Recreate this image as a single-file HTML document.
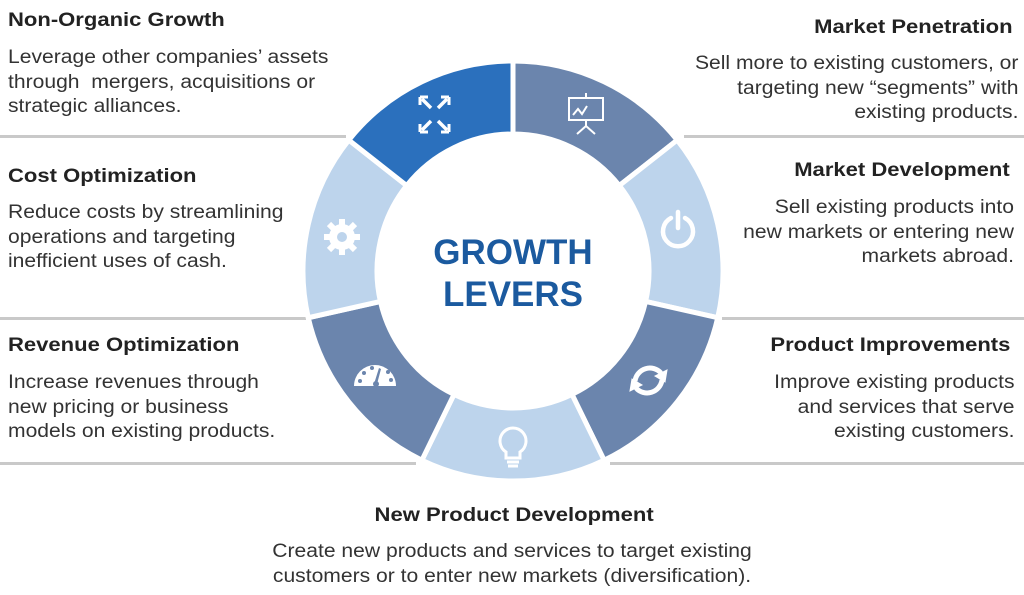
<!DOCTYPE html>
<html><head><meta charset="utf-8"><style>
body{margin:0;background:#fff;width:1024px;height:595px;overflow:hidden;font-family:"Liberation Sans",sans-serif;color:#222}
.t{position:absolute;font-weight:bold;font-size:19.5px;white-space:nowrap;transform:scaleX(1.13);transform-origin:left top}
.b{position:absolute;font-size:19px;line-height:24.5px;white-space:nowrap;color:#333;transform:scaleX(1.11);transform-origin:left top}
.r{text-align:right;transform-origin:right top}
.c{transform-origin:center top}
.hl{position:absolute;height:3px;background:#c9c9c9}
</style></head><body>
<div class="hl" style="left:0;top:135px;width:346px"></div>
<div class="hl" style="left:684px;top:135px;width:340px"></div>
<div class="hl" style="left:0;top:317px;width:306px"></div>
<div class="hl" style="left:722px;top:317px;width:302px"></div>
<div class="hl" style="left:0;top:462px;width:416px"></div>
<div class="hl" style="left:610px;top:462px;width:414px"></div>

<svg id="donut" width="1024" height="595" style="position:absolute;left:0;top:0"></svg>

<div class="t" style="left:8px;top:9px">Non-Organic Growth</div>
<div class="b" style="left:8px;top:46px">Leverage other companies’ assets<br>through&nbsp; mergers, acquisitions or<br>strategic alliances.</div>
<div class="t" style="left:8px;top:165px">Cost Optimization</div>
<div class="b" style="left:8px;top:201px">Reduce costs by streamlining<br>operations and targeting<br>inefficient uses of cash.</div>
<div class="t" style="left:8px;top:334px">Revenue Optimization</div>
<div class="b" style="left:8px;top:371px">Increase revenues through<br>new pricing or business<br>models on existing products.</div>

<div class="t r" style="right:11px;top:16px">Market Penetration</div>
<div class="b r" style="right:6px;top:52px">Sell more to existing customers, or<br>targeting new “segments” with<br>existing products.</div>
<div class="t r" style="right:14px;top:159px">Market Development</div>
<div class="b r" style="right:10px;top:196px">Sell existing products into<br>new markets or entering new<br>markets abroad.</div>
<div class="t r" style="right:14px;top:334px">Product Improvements</div>
<div class="b r" style="right:10px;top:371px">Improve existing products<br>and services that serve<br>existing customers.</div>

<div class="t c" style="left:0;width:1024px;text-align:center;top:504px;padding-left:2px">New Product Development</div>
<div class="b c" style="left:0;width:1024px;text-align:center;top:540px">Create new products and services to target existing<br>customers or to enter new markets (diversification).</div>

<script>
const segNames=['market-penetration','market-development','product-improvements','new-product-development','revenue-optimization','cost-optimization','non-organic-growth'];
const segColors=['#6b85ad','#bdd4ec','#6b85ad','#bdd4ec','#6b85ad','#bdd4ec','#2b70bd'];
const cx=513,cy=271,rx=210,ry=210,irx=136,iry=137;
const svg=document.getElementById('donut');
const NS='http://www.w3.org/2000/svg';
function pt(a,sx,sy){return [cx+sx*Math.sin(a),cy-sy*Math.cos(a)];}
const n=segNames.length,step=2*Math.PI/n;
for(let i=0;i<n;i++){
  const a0=i*step,a1=(i+1)*step;
  const p0=pt(a0,rx,ry),p1=pt(a1,rx,ry),q1=pt(a1,irx,iry),q0=pt(a0,irx,iry);
  const p=document.createElementNS(NS,'path');
  p.setAttribute('d',`M${p0} A${rx},${ry} 0 0 1 ${p1} L${q1} A${irx},${iry} 0 0 0 ${q0}Z`);
  p.setAttribute('fill',segColors[i]);p.setAttribute('stroke','#fff');p.setAttribute('stroke-width','5');
  
  
  svg.appendChild(p);
}
svg.insertAdjacentHTML('beforeend',`
<text x="513" y="264" text-anchor="middle" font-family="Liberation Sans" font-weight="bold" font-size="35" fill="#1b5a9f">GROWTH</text>
<text x="513" y="306" text-anchor="middle" font-family="Liberation Sans" font-weight="bold" font-size="35" fill="#1b5a9f">LEVERS</text>
<g stroke="#fff" stroke-width="3.5" fill="none">
<path d="M422 99l9 9M447 99l-9 9M422 130l9-9M447 130l-9-9"/>
<path d="M420 97h8M420 97v8M449 97h-8M449 97v8M420 132h8M420 132v-8M449 132h-8M449 132v-8" stroke-width="3"/></g>
<g stroke="#fff" stroke-width="2" fill="none">
<rect x="569" y="98" width="34" height="22"/><path d="M586 93v5M586 120v6M586 126l-9 8M586 126l9 8M573 115l5-6 4 5 5-8"/></g>
<g stroke="#fff" stroke-width="4.5" fill="none" stroke-linecap="round">
<path d="M671 218a15 15 0 1 0 14 0"/><path d="M678 212v16"/></g>
<g stroke="#fff" stroke-width="5" fill="none">
<path d="M635 381a15 15 0 0 1 26-8M662 380a15 15 0 0 1-26 8"/><path d="M667 370l-2 12-10-6z M630 391l2-12 10 6z" fill="#fff" stroke-width="1"/></g>
<g stroke="#fff" stroke-width="3" fill="none">
<path d="M506 452a13 13 0 1 1 14 0v6h-14z"/><path d="M507 462h12M508 466h10"/></g>
<g fill="#fff">
<path d="M354 386a21 21 0 0 1 42 0z"/><g fill="#6b85ad"><circle cx="360" cy="381" r="2"/><circle cx="364" cy="373" r="2"/><circle cx="372" cy="368" r="2"/><circle cx="388" cy="372" r="2"/><circle cx="391" cy="380" r="2"/><path d="M374 384l5-16 2 1-4 15z"/><circle cx="376" cy="384" r="3"/></g></g>
<g fill="#fff">
<circle cx="342" cy="237" r="13"/><g stroke="#fff" stroke-width="6"><path d="M342 219v36M324 237h36M329 224l26 26M355 224l-26 26"/></g><circle cx="342" cy="237" r="5" fill="#bdd4ec"/></g>
`);
</script>
</body></html>
